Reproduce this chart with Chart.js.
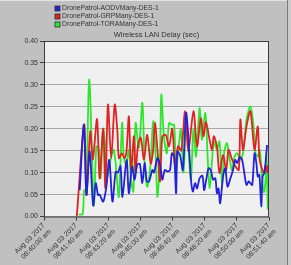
<!DOCTYPE html>
<html>
<head>
<meta charset="utf-8">
<script src="https://cdn.jsdelivr.net/npm/chart.js@4.4.1/dist/chart.umd.min.js"></script>
<style>
    html, body { margin: 0; padding: 0; background: #c0c0c0; }
    #wrap { width: 291px; height: 265px; }
</style>
</head>
<body>
<div id="wrap"><canvas id="myChart" width="291" height="265"></canvas></div>
<script>
// seconds after 08:40:00
const xTickLabels = [
    ["Aug 03 2017", "08:40:00 am"],
    ["Aug 03 2017", "08:41:40 am"],
    ["Aug 03 2017", "08:43:20 am"],
    ["Aug 03 2017", "08:45:00 am"],
    ["Aug 03 2017", "08:46:40 am"],
    ["Aug 03 2017", "08:48:20 am"],
    ["Aug 03 2017", "08:50:00 am"],
    ["Aug 03 2017", "08:51:40 am"],
];
const seriesNames = ["DronePatrol-AODVMany-DES-1", "DronePatrol-GRPMany-DES-1", "DronePatrol-TORAMany-DES-1"];

const aodvTime = [111,124,132,142,153,161,168,173,184,194,203,213,223,230,238,244,257,264,274,282,290,298,306,313,320,327,337,342,353,361,368,376,384,392,398,405,411,415,423,432,442,449,457,463,470,476,484,493,498,505,512,519,526,533,538,543,548,557,564,571,580,588,595,601,609,616,623,630,637,642,648,655,661,665,670,676,680,686,694];
const aodvDelay = [0.06,0.209,0.049,0.148,0.025,0.076,0.049,0.05,0.034,0.068,0.129,0.034,0.102,0.10,0.115,0.045,0.129,0.053,0.114,0.084,0.118,0.12,0.076,0.122,0.08,0.08,0.106,0.10,0.133,0.118,0.084,0.106,0.103,0.106,0.144,0.135,0.053,0.148,0.14,0.106,0.236,0.183,0.087,0.057,0.076,0.064,0.087,0.093,0.06,0.085,0.11,0.106,0.084,0.087,0.053,0.064,0.03,0.091,0.11,0.068,0.087,0.106,0.129,0.122,0.135,0.13,0.1,0.072,0.08,0.076,0.072,0.144,0.12,0.091,0.095,0.023,0.091,0.1,0.163];

const grpTime = [102,125,132,144,152,165,173,184,191,199,209,220,228,233,242,251,257,264,271,280,285,292,301,311,321,332,339,345,353,361,368,379,389,399,408,417,427,439,449,465,476,488,496,504,515,523,528,538,546,557,567,574,585,595,606,611,619,630,642,655,665,671,684,689,694,697];
const grpDelay = [0.0,0.21,0.05,0.194,0.13,0.222,0.087,0.2,0.065,0.255,0.133,0.255,0.198,0.133,0.144,0.133,0.152,0.228,0.106,0.183,0.1,0.16,0.18,0.13,0.186,0.121,0.148,0.213,0.152,0.08,0.182,0.186,0.16,0.2,0.114,0.16,0.15,0.24,0.148,0.24,0.16,0.224,0.183,0.215,0.175,0.152,0.183,0.16,0.099,0.14,0.106,0.152,0.13,0.115,0.106,0.221,0.152,0.205,0.24,0.152,0.205,0.129,0.099,0.117,0.10,0.117];

const toraTime = [108,120,125,131,141,155,163,170,176,184,191,196,205,212,217,223,233,243,248,256,264,271,278,285,295,306,313,321,330,340,348,353,361,365,373,382,389,398,405,411,418,426,434,442,449,457,465,473,484,491,502,509,515,523,528,538,546,554,561,569,578,585,593,601,611,619,630,642,651,658,665,671,679,684,689,692,696];
const toraDelay = [0.005,0.005,0.06,0.06,0.312,0.026,0.16,0.158,0.087,0.2,0.156,0.09,0.121,0.144,0.152,0.121,0.045,0.213,0.137,0.118,0.152,0.084,0.057,0.213,0.156,0.259,0.122,0.068,0.106,0.217,0.129,0.045,0.144,0.278,0.183,0.144,0.213,0.209,0.209,0.106,0.152,0.198,0.1,0.22,0.16,0.084,0.198,0.137,0.247,0.175,0.236,0.137,0.065,0.129,0.171,0.152,0.171,0.076,0.148,0.167,0.129,0.106,0.137,0.144,0.129,0.144,0.22,0.251,0.213,0.144,0.137,0.152,0.083,0.055,0.08,0.144,0.016];

const toPoints = (times, vals) => times.map((t, i) => ({ x: t, y: vals[i] }));
const FONT = "'Liberation Sans', Arial, sans-serif";

// grey window, light plot box, frame
const panel = {
    id: "panel",
    beforeDraw(chart) {
        const { ctx, chartArea: a, width, height } = chart;
        ctx.save();
        ctx.fillStyle = "#c0c0c0";
        ctx.fillRect(0, 0, width, height);
        ctx.fillStyle = "#e4e4e4";
        ctx.fillRect(0, 0, width, 1);
        ctx.fillStyle = "#7c7c7c";
        ctx.fillRect(287, 0, 1, height);
        ctx.fillStyle = "#cbcbcb";
        ctx.fillRect(288, 0, 3, height);
        ctx.fillStyle = "#f0f0f0";
        ctx.fillRect(a.left, a.top, a.right - a.left, a.bottom - a.top);
        ctx.restore();
    },
    afterDatasetsDraw(chart) {
        const { ctx, chartArea: a } = chart;
        ctx.save();
        ctx.strokeStyle = "#3c3c3c";
        ctx.lineWidth = 1;
        ctx.strokeRect(a.left + 0.5, a.top + 0.5, a.right - a.left - 1, a.bottom - a.top);
        ctx.restore();
    },
};

// stacked legend, top left
const stackLegend = {
    id: "stackLegend",
    afterDraw(chart) {
        const { ctx } = chart;
        ctx.save();
        ctx.font = "6.8px " + FONT;
        ctx.textBaseline = "middle";
        chart.data.datasets.forEach((ds, i) => {
            const y = 8.5 + i * 8;
            ctx.fillStyle = ds.borderColor;
            ctx.fillRect(55, y - 2.5, 5, 5);
            ctx.strokeStyle = "#303030";
            ctx.lineWidth = 0.8;
            ctx.strokeRect(55, y - 2.5, 5, 5);
            ctx.fillStyle = "#333333";
            ctx.fillText(ds.label, 62, y);
        });
        ctx.restore();
    },
};

const ctx = document.getElementById("myChart");
new Chart(ctx, {
    type: "line",
    data: {
        datasets: [
            { label: seriesNames[0], data: toPoints(aodvTime, aodvDelay), borderColor: "#2222d8" },
            { label: seriesNames[1], data: toPoints(grpTime, grpDelay), borderColor: "#e02222" },
            { label: seriesNames[2], data: toPoints(toraTime, toraDelay), borderColor: "#2ee62e" },
        ],
    },
    options: {
        responsive: false,
        animation: false,
        devicePixelRatio: 1,
        parsing: false,
        elements: {
            line: { borderWidth: 1.8, tension: 0.3 },
            point: { radius: 0 },
        },
        layout: { padding: { top: 30, right: 22, left: 0, bottom: 0 } },
        plugins: {
            legend: { display: false },
            tooltip: { enabled: false },
            title: {
                display: true,
                text: "Wireless LAN Delay (sec)",
                fullSize: false,
                color: "#333333",
                font: { family: FONT, size: 7.5, weight: "normal" },
                padding: { top: 0, bottom: 2 },
            },
        },
        scales: {
            x: {
                type: "linear",
                min: 0,
                max: 700,
                afterFit: (s) => { s.height = 48.5; },
                ticks: {
                    stepSize: 100,
                    autoSkip: false,
                    maxRotation: 45,
                    minRotation: 45,
                    padding: 1,
                    color: "#333333",
                    font: { family: FONT, size: 7 },
                    callback: (v, i) => xTickLabels[i],
                },
                grid: { drawOnChartArea: false, tickLength: 4, color: "#3c3c3c" },
                border: { display: false },
            },
            y: {
                min: 0,
                max: 0.4,
                afterFit: (s) => { s.width = 44; },
                ticks: {
                    stepSize: 0.05,
                    padding: 2,
                    color: "#333333",
                    font: { family: FONT, size: 7 },
                    callback: (v) => v.toFixed(2),
                },
                grid: { color: "#a8a8a8", tickLength: 4, tickColor: "#3c3c3c" },
                border: { display: false },
            },
        },
    },
    plugins: [panel, stackLegend],
});
</script>
</body>
</html>
